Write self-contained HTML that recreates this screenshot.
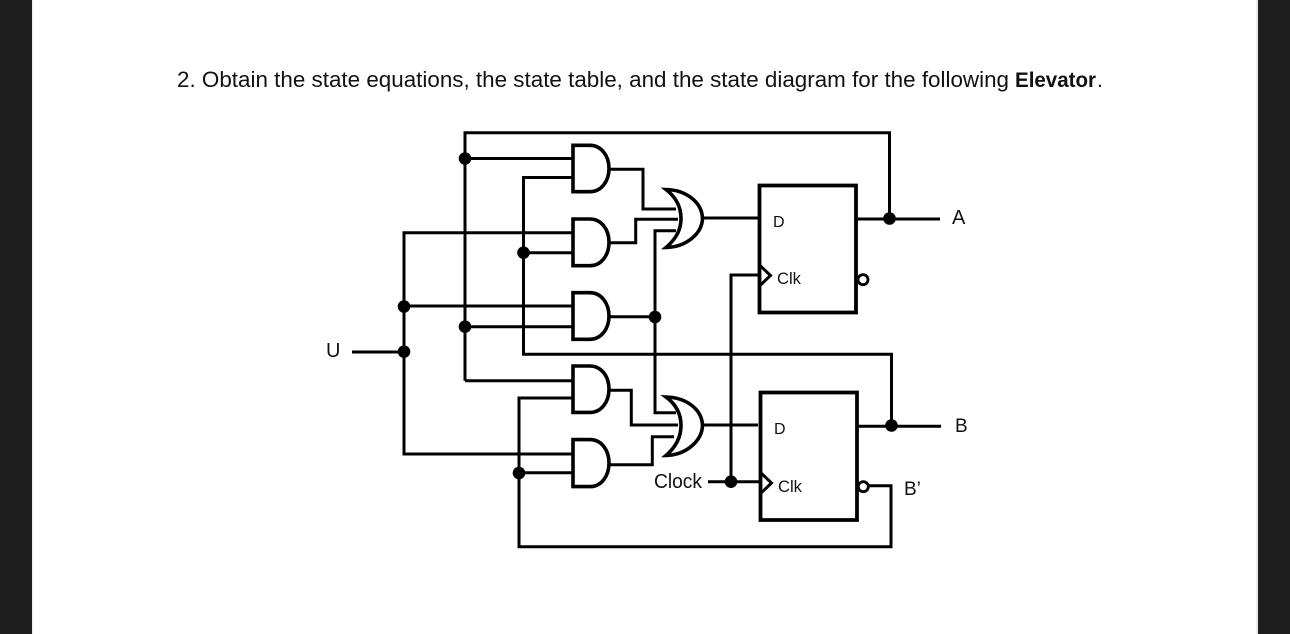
<!DOCTYPE html>
<html>
<head>
<meta charset="utf-8">
<style>
html,body{margin:0;padding:0;background:#1e1e1f;width:1290px;height:634px;overflow:hidden}
svg{display:block}
text{font-family:"Liberation Sans",sans-serif;fill:#111}
</style>
</head>
<body>
<svg width="1290" height="634" viewBox="0 0 1290 634" xmlns="http://www.w3.org/2000/svg">
<rect x="0" y="0" width="1290" height="634" fill="#1e1e1f"/>
<rect x="32" y="0" width="1226" height="634" fill="#ffffff"/>
<rect x="32" y="0" width="1.5" height="634" fill="#f0f0f0"/>
<rect x="1256" y="0" width="2" height="634" fill="#ececec"/>

<text x="177" y="87" font-size="22" textLength="832" lengthAdjust="spacingAndGlyphs">2. Obtain the state equations, the state table, and the state diagram for the following</text>
<text x="1015" y="87" font-size="21" font-weight="bold" textLength="81" lengthAdjust="spacingAndGlyphs">Elevator</text>
<text x="1097" y="87" font-size="21">.</text>

<g fill="none" stroke="#000" stroke-width="3" stroke-linejoin="miter" stroke-linecap="butt">
  <!-- feedback A -->
  <path d="M465 380.7V132.7H889.5V219"/>
  <path d="M465 158.5H573"/>
  <path d="M465 326.7H573"/>
  <path d="M465 380.7H573"/>
  <!-- feedback B -->
  <path d="M573 177.5H523.5V354.3H891.5V426"/>
  <path d="M523.5 252.7H573"/>
  <!-- U -->
  <path d="M352 352H404"/>
  <path d="M573 232.7H404V454H573"/>
  <path d="M404 306H573"/>
  <!-- B' -->
  <path d="M573 398H519V546.7H891V485.7H869"/>
  <path d="M519 472.7H573"/>
  <!-- AND outputs to OR -->
  <path d="M609 169.3H643V209H676"/>
  <path d="M609 242.7H635.7V219.3H678"/>
  <path d="M609 316.7H655"/>
  <path d="M676 230.7H655V412.7H676"/>
  <path d="M609 390.3H631.3V425H678"/>
  <path d="M609 464.7H652.3V436.7H674"/>
  <!-- OR outputs -->
  <path d="M703 218H758"/>
  <path d="M703 425H758"/>
  <!-- Clock -->
  <path d="M708 481.7H760"/>
  <path d="M760 275H731V481.7"/>
  <!-- FF outputs -->
  <path d="M857 219H940"/>
  <path d="M857 426.3H941"/>
</g>

<!-- AND gates -->
<g fill="#fff" stroke="#000" stroke-width="3.6" stroke-linejoin="miter">
  <path d="M573 145.3H590C601 145.3 609 155.5 609 168.5C609 181.5 601 191.7 590 191.7H573Z"/>
  <path d="M573 219H590C601 219 609 229 609 242.3C609 255.5 601 265.7 590 265.7H573Z"/>
  <path d="M573 292.7H590C601 292.7 609 303 609 316C609 329 601 339.3 590 339.3H573Z"/>
  <path d="M573 366H590C601 366 609 376 609 389.2C609 402.3 601 412.4 590 412.4H573Z"/>
  <path d="M573 439.6H590C601 439.6 609 449.6 609 463C609 476.4 601 486.6 590 486.6H573Z"/>
  <!-- OR gates -->
  <path d="M666 189.5C686 190 702 202 702.5 218.5C702 234 686 247 666 247.5C677 238 681 229 681 218.5C681 208 677 198 666 189.5Z"/>
  <path d="M666 397C686 397.5 702 409 702.5 425.5C702 441 686 455 666 455.5C677 446 681 436 681 425.5C681 415 677 405 666 397Z"/>
</g>

<!-- Flip-flops -->
<g fill="#fff" stroke="#000">
  <path d="M759.5 185.5H856V312.5H759.5Z" stroke-width="3.8"/>
  <path d="M760.5 392.5H857V520H760.5Z" stroke-width="3.8"/>
</g>
<g fill="none" stroke="#000" stroke-width="3" stroke-linejoin="miter">
  <path d="M760 265.5L770.5 275.5L760 285.5"/>
  <path d="M761 473L771.5 483L761 493"/>
</g>
<g fill="#fff" stroke="#000" stroke-width="2.8">
  <circle cx="863" cy="279.7" r="5"/>
  <circle cx="863.3" cy="486.7" r="5"/>
</g>

<!-- Dots -->
<g fill="#000">
  <circle cx="465" cy="158.5" r="6.3"/>
  <circle cx="523.5" cy="252.7" r="6.3"/>
  <circle cx="404" cy="306.5" r="6.3"/>
  <circle cx="465" cy="326.7" r="6.3"/>
  <circle cx="655" cy="317" r="6.3"/>
  <circle cx="404" cy="351.7" r="6.3"/>
  <circle cx="519" cy="473" r="6.3"/>
  <circle cx="731" cy="481.7" r="6.3"/>
  <circle cx="889.5" cy="218.5" r="6.3"/>
  <circle cx="891.5" cy="425.5" r="6.3"/>
</g>

<!-- Labels -->
<text x="326" y="357" font-size="20">U</text>
<text x="654" y="488" font-size="20" textLength="48" lengthAdjust="spacingAndGlyphs">Clock</text>
<text x="773" y="227" font-size="16">D</text>
<text x="774" y="434" font-size="16">D</text>
<text x="777" y="284" font-size="17" textLength="24" lengthAdjust="spacingAndGlyphs">Clk</text>
<text x="778" y="492" font-size="17" textLength="24" lengthAdjust="spacingAndGlyphs">Clk</text>
<text x="952" y="224" font-size="20">A</text>
<text x="955" y="432" font-size="19">B</text>
<text x="904" y="495" font-size="19">B’</text>
</svg>
</body>
</html>
